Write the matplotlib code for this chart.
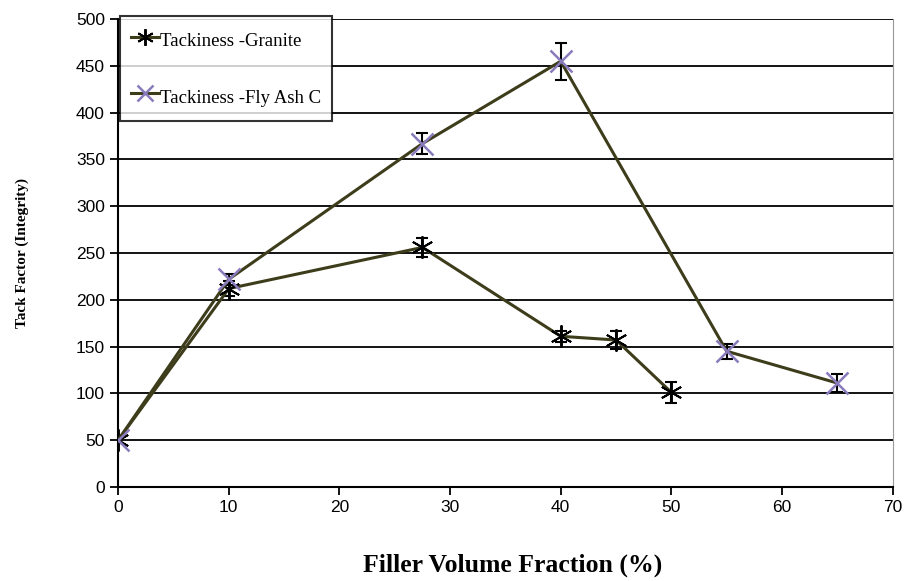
import matplotlib.pyplot as plt

# datos
granite_x = [0, 10, 27.5, 40, 45, 50]
granite_y = [50, 212, 256, 161, 157, 101]
granite_err = [3, 8, 10, 6, 10, 11]

flyash_x = [0, 10, 27.5, 40, 55, 65]
flyash_y = [50, 222, 367, 455, 145, 111]
flyash_err = [3, 6, 11, 20, 8, 10]

line_col = "#3d3d1c"

fig = plt.figure(figsize=(9.09, 5.81), dpi=100)
ax = fig.add_axes([0.130, 0.162, 0.852, 0.805])

for y in range(50, 501, 50):
    ax.axhline(y, color="black", lw=1.3, zorder=1)

ax.errorbar(granite_x, granite_y, yerr=granite_err, fmt="none", ecolor="black",
            elinewidth=1.5, capsize=4, capthick=1.5, zorder=3)
ax.errorbar(flyash_x, flyash_y, yerr=flyash_err, fmt="none", ecolor="black",
            elinewidth=1.5, capsize=4, capthick=1.5, zorder=3)

ax.plot(granite_x, granite_y, color=line_col, lw=2.2, marker=(6, 2, 0),
        markersize=16, markeredgecolor="black", markeredgewidth=1.4,
        label="Tackiness -Granite", zorder=4)
ax.plot(flyash_x, flyash_y, color=line_col, lw=2.2, marker="x",
        markersize=16, markeredgecolor="#8a7bbd", markeredgewidth=1.8,
        label="Tackiness -Fly Ash C", zorder=4)

ax.set_xlim(0, 70)
ax.set_ylim(0, 500)
ax.set_xticks(range(0, 71, 10))
ax.set_yticks(range(0, 501, 50))
ax.tick_params(direction="out", length=6, width=1.3, labelsize=12.5)
for lab in ax.get_xticklabels() + ax.get_yticklabels():
    lab.set_fontfamily("Liberation Sans")

ax.spines["top"].set_visible(False)
ax.spines["right"].set_color("#999999")
ax.spines["left"].set_linewidth(1.5)
ax.spines["bottom"].set_linewidth(1.5)

ax.set_xlabel("Filler Volume Fraction (%)", fontfamily="Liberation Serif",
              fontweight="bold", fontsize=18.5)
ax.xaxis.set_label_coords(0.509, -0.143)
ax.set_ylabel("Tack Factor (Integrity)", fontfamily="Liberation Serif",
              fontweight="bold", fontsize=11, labelpad=34)

leg = ax.legend(loc="upper left", bbox_to_anchor=(0.002, 1.007),
                prop={"family": "Liberation Serif", "size": 13.5},
                frameon=True, fancybox=False, edgecolor="black",
                handlelength=1.5, handleheight=1.8, handletextpad=0.05,
                labelspacing=1.6, borderpad=0.6, borderaxespad=0,
                markerscale=0.75)
leg.get_frame().set_linewidth(1.5)

fig.savefig("out.png", dpi=100)
